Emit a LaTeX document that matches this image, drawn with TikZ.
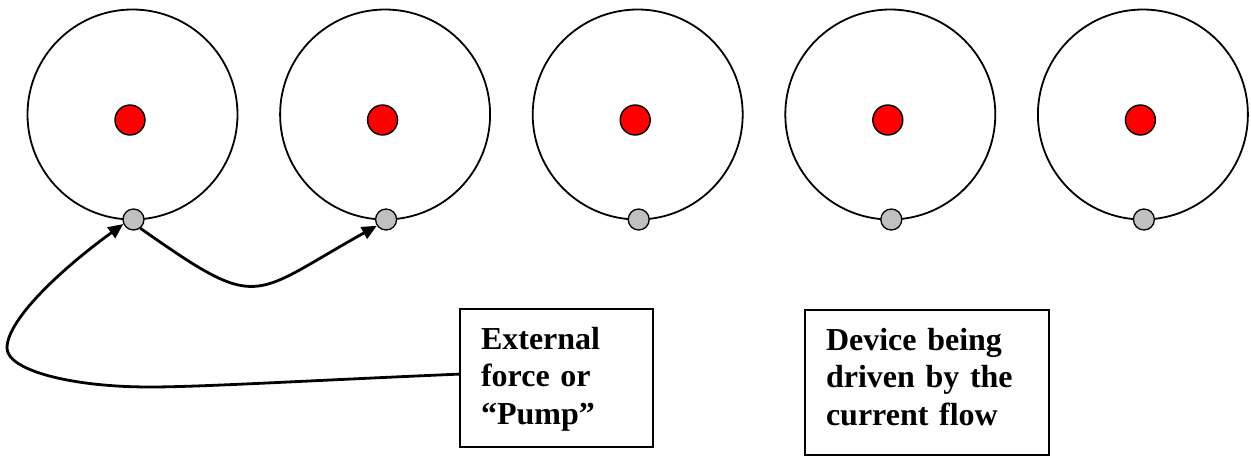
\documentclass[tikz,border=0pt]{standalone}
\usepackage{fontspec}
\setmainfont{Liberation Serif}
\usetikzlibrary{arrows.meta}
\definecolor{elgray}{HTML}{C0C0C0}
\begin{document}
\begin{tikzpicture}[x=1pt,y=1pt,
  orbit/.style={draw, line width=1.8pt, circle, minimum size=210pt, inner sep=0pt},
  nucleus/.style={draw, line width=1.4pt, circle, fill=red, minimum size=30pt, inner sep=0pt},
  electron/.style={draw, line width=1.3pt, circle, fill=elgray, minimum size=21pt, inner sep=0pt},
  flow/.style={line width=2.8pt, -{Triangle[length=15pt,width=13pt]}},
  textbox/.style={draw, line width=2pt, anchor=north west, align=left,
    inner xsep=21pt, inner ysep=18pt, font=\bfseries\fontsize{32}{37.5}\selectfont}
]
\useasboundingbox (0,0) rectangle (1251,-456);

% five atoms: orbit, nucleus and one outer electron each
\foreach \i in {1,...,5} {
  \pgfmathsetmacro\cx{132.5+252.6*(\i-1)}
  \node[orbit] (o\i) at (\cx,-114.5) {};
  \node[nucleus] (n\i) at (\cx-2.5,-120) {};
  \node[electron] (e\i) at (\cx+1,-219.5) {};
}

% labels (depth measured from the first baseline)
\node[textbox, text width=151pt, text depth=80pt] (b1) at (459,-308)
  {External\\force or\\“Pump”};
\node[textbox, text width=202pt, text depth=87pt] (b2) at (804,-309)
  {Device being\\driven by the\\current flow};

% electron hop between neighbouring atoms
\draw[flow] (e1.308) .. controls (261,-313) and (249,-297) .. (e2.214);

% pump feeding the first atom
\draw[flow] ([yshift=4pt]b1.west) .. controls (300,-381) and (200,-387) .. (150,-387)
  .. controls (70,-387) and (7,-370) .. (7,-348)
  .. controls (7,-320) and (60,-270) .. (e1.204);
\end{tikzpicture}
\end{document}
